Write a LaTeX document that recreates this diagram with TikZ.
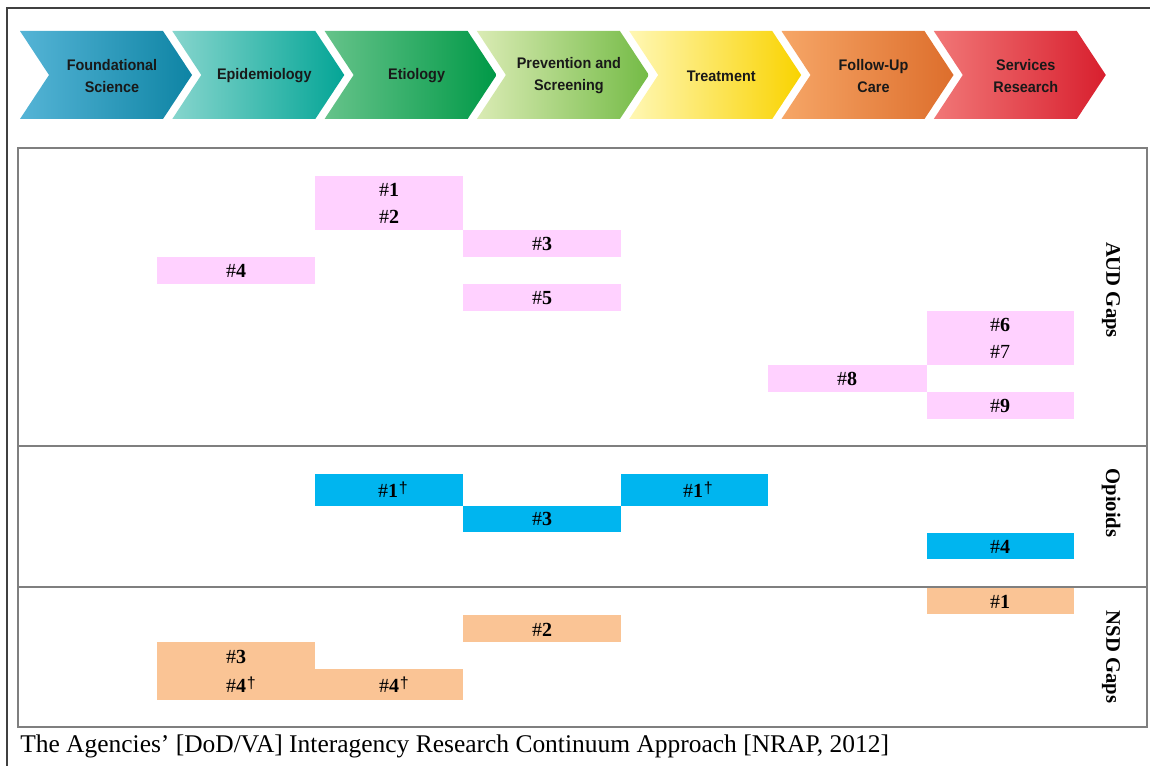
\documentclass[tikz,border=0pt]{standalone}
\usepackage{fontspec}
\setmainfont{Liberation Serif}
\newfontfamily\chevfont{Liberation Sans}
\definecolor{audpink}{HTML}{FFD1FF}
\definecolor{opiblue}{HTML}{00B5EF}
\definecolor{nsdpeach}{HTML}{FAC495}
\definecolor{framegray}{HTML}{7F7F7F}
\definecolor{fsL}{HTML}{55B4D6}\definecolor{fsM}{HTML}{2A9CC0}\definecolor{fsR}{HTML}{0E84A4}
\definecolor{epL}{HTML}{86D5CD}\definecolor{epM}{HTML}{22BCAE}\definecolor{epR}{HTML}{04A596}
\definecolor{etL}{HTML}{66C38A}\definecolor{etM}{HTML}{2FAE64}\definecolor{etR}{HTML}{009947}
\definecolor{prL}{HTML}{DAEBB4}\definecolor{prM}{HTML}{AAD47E}\definecolor{prR}{HTML}{74BB46}
\definecolor{trL}{HTML}{FFF7B4}\definecolor{trM}{HTML}{FFF000}\definecolor{trR}{HTML}{F9D300}
\definecolor{fuL}{HTML}{F6A667}\definecolor{fuM}{HTML}{F08435}\definecolor{fuR}{HTML}{DD6E2C}
\definecolor{srL}{HTML}{F17777}\definecolor{srM}{HTML}{EC2A34}\definecolor{srR}{HTML}{D81F2E}
\tikzset{
  chevtext/.style={font=\chevfont\bfseries\fontsize{11.5}{16.5}\selectfont, align=center, text=black!90},
  gaptext/.style={font=\fontsize{15}{16}\selectfont, anchor=base, inner sep=0pt},
  sidelbl/.style={font=\bfseries\fontsize{15.5}{17}\selectfont, rotate=-90, inner sep=0pt},
}
\newcommand{\gapno}[1]{\#\textbf{#1}}
\newcommand{\gapdag}[1]{\#\textbf{#1}\hspace{0.5pt}\raisebox{3pt}{\chevfont\fontsize{12}{12}\selectfont\dag}}
\begin{document}
\begin{tikzpicture}[x=0.75pt, y=-0.75pt]
  \useasboundingbox (0,0) rectangle (1150,766);
  \draw[line width=1.5pt, black!75] (7,766) -- (7,8) -- (1150,8);

  \foreach \i/\lbl/\colL/\colM/\colR in {0/{Foundational\\Science}/fsL/fsM/fsR, 1/{Epidemiology}/epL/epM/epR,
      2/{Etiology}/etL/etM/etR, 3/{Prevention and\\Screening}/prL/prM/prR, 4/{Treatment}/trL/trM/trR,
      5/{Follow-Up\\Care}/fuL/fuM/fuR, 6/{Services\\Research}/srL/srM/srR} {
    \pgfmathsetmacro\xa{20+152.3*\i}
    \shade[left color=\colL, middle color=\colM, right color=\colR]
      (\xa,31) -- ++(143,0) -- ++(29,44) -- ++(-29,44) -- ++(-143,0) -- ++(29,-44) -- cycle;
    \node[chevtext, xscale=0.94] (chev\i) at (\xa+92,76) {\lbl};
  }

  \fill[audpink] (315,176) rectangle (463,230);
  \fill[audpink] (463,230) rectangle (621,257);
  \fill[audpink] (157,257) rectangle (315,284);
  \fill[audpink] (463,284) rectangle (621,311);
  \fill[audpink] (927,311) rectangle (1074,365);
  \fill[audpink] (768,365) rectangle (927,392);
  \fill[audpink] (927,392) rectangle (1074,419);

  \fill[opiblue] (315,474) rectangle (463,506);
  \fill[opiblue] (463,506) rectangle (621,532);
  \fill[opiblue] (621,474) rectangle (768,506);
  \fill[opiblue] (927,533) rectangle (1074,559);

  \fill[nsdpeach] (927,588) rectangle (1074,614);
  \fill[nsdpeach] (463,615) rectangle (621,642);
  \fill[nsdpeach] (157,642) rectangle (315,700);
  \fill[nsdpeach] (315,669) rectangle (463,700);

  \node[gaptext] (aud1) at (389,197) {\gapno{1}};
  \node[gaptext] (aud2) at (389,224) {\gapno{2}};
  \node[gaptext] (aud3) at (542,251) {\gapno{3}};
  \node[gaptext] (aud4) at (236,278) {\gapno{4}};
  \node[gaptext] (aud5) at (542,305) {\gapno{5}};
  \node[gaptext] (aud6) at (1000,332) {\gapno{6}};
  \node[gaptext] (aud7) at (1000,359) {\#7};
  \node[gaptext] (aud8) at (847,386) {\gapno{8}};
  \node[gaptext] (aud9) at (1000,413) {\gapno{9}};

  \node[gaptext] (opi1a) at (393,498) {\gapdag{1}};
  \node[gaptext] (opi3) at (542,526) {\gapno{3}};
  \node[gaptext] (opi1b) at (698,498) {\gapdag{1}};
  \node[gaptext] (opi4) at (1000,553) {\gapno{4}};

  \node[gaptext] (nsd1) at (1000,608) {\gapno{1}};
  \node[gaptext] (nsd2) at (542,636) {\gapno{2}};
  \node[gaptext] (nsd3) at (236,663) {\gapno{3}};
  \node[gaptext] (nsd4a) at (241,692) {\gapdag{4}};
  \node[gaptext] (nsd4b) at (394,692) {\gapdag{4}};

  \draw[line width=1.1pt, framegray] (18,148) rectangle (1147,727);
  \draw[line width=1.1pt, framegray] (18,446) -- (1147,446);
  \draw[line width=1.1pt, framegray] (18,587) -- (1147,587);

  \node[sidelbl] (audlbl) at (1111,290) {AUD Gaps};
  \node[sidelbl] (opilbl) at (1111,503) {Opioids};
  \node[sidelbl] (nsdlbl) at (1111,657) {NSD Gaps};

  \node[anchor=base west, inner sep=0pt, font=\fontsize{19.1}{20}\selectfont] (caption) at (20,752)
    {The Agencies’ [DoD/VA] Interagency Research Continuum Approach [NRAP, 2012]};
\end{tikzpicture}
\end{document}
